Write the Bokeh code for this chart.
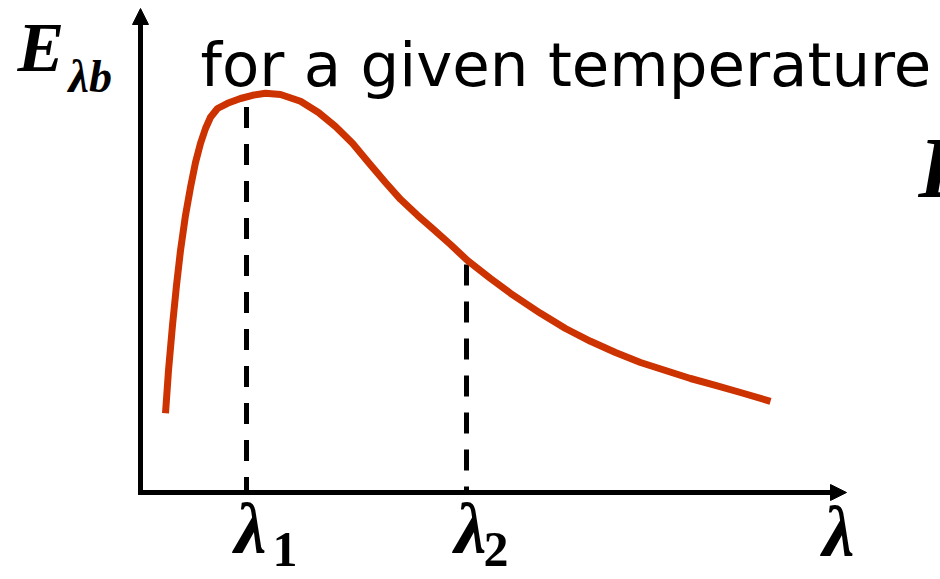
import numpy as np
from bokeh.plotting import figure
from bokeh.models import Range1d, Arrow, NormalHead
from bokeh.core.properties import value
from bokeh.embed import file_html
from bokeh.resources import INLINE

# ---- data (arbitrary units) ----
wavelength = [0.50, 0.56, 0.64, 0.72, 0.80, 0.90, 1.00, 1.10, 1.20, 1.30,
              1.40, 1.54, 1.74, 2.00, 2.24, 2.50, 2.80, 3.20, 3.56, 3.90,
              4.24, 4.56, 4.90, 5.20, 5.54, 5.86, 6.20, 6.54, 7.00, 7.40,
              8.00, 8.50, 9.00, 9.50, 10.0, 10.5, 11.0, 11.5, 12.0, 12.6]
emissive_power = [19.8, 30.5, 41.8, 51.8, 60.5, 69.3, 76.3, 82.5, 87.3, 91.0,
                  93.8, 96.0, 97.3, 98.5, 99.3, 99.8, 99.5, 97.8, 95.0, 91.5,
                  87.3, 82.5, 77.5, 73.3, 69.3, 65.8, 62.0, 58.0, 53.5, 49.8,
                  44.8, 41.0, 37.8, 35.0, 32.5, 30.5, 28.5, 26.8, 25.0, 22.8]
lambda_marks = [2.12, 6.52]
lambda_labels = ["λ", "λ"]
lambda_subs = ["1", "2"]
axis_x_end = 14.12
axis_y_end = 121.0

# ---- layout helpers (pixels per data unit) ----
PXX, PXY = 50.0, 4.0
W, H = 940, 579
OX, OY = 140.0, 492.0          # pixel position of the axes origin
x0 = -OX / PXX
y1 = OY / PXY


def tx(px):
    return (px - OX) / PXX


def ty(baseline_px, size):
    # compensate for the renderer's baseline placement
    return (OY - baseline_px + 0.375 * size) / PXY


p = figure(width=W, height=H, x_range=Range1d(x0, x0 + W / PXX),
           y_range=Range1d(y1 - H / PXY, y1), output_backend="svg",
           toolbar_location=None, min_border=0,
           x_axis_location=None, y_axis_location=None)
p.grid.visible = False
p.outline_line_color = None
p.background_fill_color = "white"
p.border_fill_color = "white"

# axes with arrows
head = dict(size=16, fill_color="black", line_color="black", line_width=1)
p.add_layout(Arrow(end=NormalHead(**head), x_start=-2.5 / PXX, y_start=0,
                   x_end=axis_x_end, y_end=0, line_width=5, line_color="black"))
p.add_layout(Arrow(end=NormalHead(**head), x_start=0, y_start=-2.5 / PXY,
                   x_end=0, y_end=axis_y_end, line_width=5, line_color="black"))

# dashed markers
offsets = [31, 36]
for lam, off in zip(lambda_marks, offsets):
    top = float(np.interp(lam, wavelength, emissive_power)) - 4.0 / PXY
    p.line(x=[lam, lam], y=[top, 0], line_color="black", line_width=5,
           line_dash="21 16", line_dash_offset=off)

# curve
p.line(x=wavelength, y=emissive_power, line_color="#cc3300", line_width=7,
       line_join="round", line_cap="butt")

serif = value("Liberation Serif")
common = dict(text_baseline="alphabetic", text_align="left", text_color="black")

# lambda labels under the axis
p.text(x=[lam - 12 / PXX for lam in lambda_marks], y=[ty(555, 72)] * 2,
       text=lambda_labels, text_font=serif, text_font_style="bold italic",
       text_font_size="72px", **common)
p.text(x=[lambda_marks[0] + 26 / PXX, lambda_marks[1] + 17 / PXX],
       y=[ty(568, 50)] * 2, text=lambda_subs, text_font=serif,
       text_font_style="bold", text_font_size="50px", **common)
p.text(x=[axis_x_end - 24 / PXX], y=[ty(558, 72)], text=["λ"], text_font=serif,
       text_font_style="bold italic", text_font_size="72px", **common)

# y label E_λb
p.text(x=[tx(17)], y=[ty(73, 70)], text=["E"], text_font=serif,
       text_font_style="bold italic", text_font_size="70px", **common)
p.text(x=[tx(68)], y=[ty(93, 46)], text=["λb"], text_font=serif,
       text_font_style="bold italic", text_font_size="46px", **common)

# title text
p.text(x=[tx(200)], y=[ty(87, 61)], text=["for a given temperature"],
       text_font=value("DejaVu Sans"), text_font_size="61px", **common)

# partially visible letter at the right edge
p.text(x=[tx(918)], y=[ty(200, 86)], text=["E"], text_font=serif,
       text_font_style="bold italic", text_font_size="86px", **common)

open("out.html", "w").write(file_html(p, INLINE))
